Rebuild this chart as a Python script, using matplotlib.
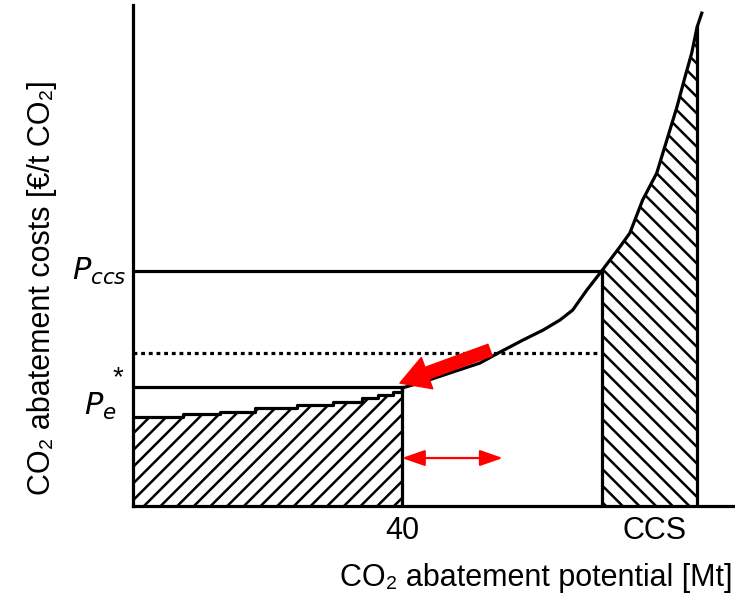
import numpy as np
import matplotlib
matplotlib.use("Agg")
import matplotlib.pyplot as plt

plt.rcParams['font.family'] = ['Liberation Sans', 'DejaVu Sans']
plt.rcParams['hatch.linewidth'] = 1.8

# marginal abatement cost curve (Mt, EUR/t)
low_x = [0, 7.4, 12.9, 18.1, 24.4, 29.7, 34.1, 36.5, 38.7, 40.0]
low_y = [17.8, 18.4, 18.8, 19.6, 20.2, 20.8, 21.6, 22.2, 22.8, 23.6]
high_x = [40.0, 43.1, 47.1, 51.6, 54.6, 58.0, 61.0, 63.5, 65.4, 67.5, 69.7,
          72.4, 73.9, 75.8, 77.9, 79.4, 80.9, 82.1, 83.1, 83.9, 84.6]
high_y = [23.6, 24.8, 26.6, 28.6, 30.8, 33.2, 35.2, 37.2, 39.2, 43.2, 47.0,
          51.8, 54.6, 61.2, 66.6, 73.2, 79.8, 85.8, 90.6, 95.8, 98.6]

q_target = 40.0
q_ccs = 69.7
q_end = 83.9
p_ccs = 47.0
p_dotted = 30.6
p_e = 23.8
shift = 55.0

fig = plt.figure(figsize=(7.35, 5.97), dpi=100)
ax = fig.add_axes([0.181, 0.1524, 0.8177, 0.839])
ax.set_xlim(0, 89.4)
ax.set_ylim(0, 100.2)

for s in ['top', 'right']:
    ax.spines[s].set_visible(False)
for s in ['left', 'bottom']:
    ax.spines[s].set_linewidth(2.3)

# hatched areas
ax.fill_between(low_x, 0, low_y, step='post', facecolor='none',
                edgecolor='k', hatch='//', lw=0)
hx = np.array(high_x)
hy = np.array(high_y)
m = (hx >= q_ccs) & (hx <= q_end)
ax.fill_between(hx[m], 0, hy[m], facecolor='none', edgecolor='k',
                hatch='\\\\', lw=0)

# curve
ax.step(low_x, low_y, where='post', color='k', lw=2.3)
ax.plot(high_x, high_y, color='k', lw=2.3)

# price / quantity lines
ax.plot([0, q_ccs], [p_ccs, p_ccs], color='k', lw=2.3)
ax.plot([0, q_ccs], [p_dotted, p_dotted], color='k', lw=2.3, ls=(0, (1.2, 1.2)))
ax.plot([0, q_target], [p_e, p_e], color='k', lw=2.3)
ax.plot([q_target, q_target], [0, p_e], color='k', lw=2.3)
ax.plot([q_ccs, q_ccs], [0, p_ccs], color='k', lw=2.3)
ax.plot([q_end, q_end], [0, 95.8], color='k', lw=2.3)

# red arrows
ax.annotate('', xy=(39.7, 24.6), xytext=(53.1, 31.2),
            arrowprops=dict(arrowstyle='simple,head_width=1.5,head_length=1.3,tail_width=0.55',
                            color='red', mutation_scale=16, shrinkA=0, shrinkB=0))
ax.annotate('', xy=(shift, 9.6), xytext=(q_target, 9.6),
            arrowprops=dict(arrowstyle='<|-|>,head_width=0.35,head_length=1.0',
                            color='red', lw=1.6, mutation_scale=14, shrinkA=0, shrinkB=0))

ax.set_xticks([q_target, 77.6])
ax.set_xticklabels(['40', 'CCS'], fontsize=22)
ax.tick_params(axis='x', length=0, pad=7)
ax.set_yticks([])

ax.text(-1.0, p_ccs, r'$P_{ccs}$', fontsize=22, ha='right', va='center', clip_on=False)
ax.text(-2.4, 20.0, r'$P_e$', fontsize=22, ha='right', va='center', clip_on=False)
ax.text(-3.0, 25.5, '*', fontsize=20, ha='left', va='center', clip_on=False)

fig.text(733 / 735, 1 - 578 / 597, 'CO₂ abatement potential [Mt]', fontsize=22,
         ha='right', va='center')
fig.text(42 / 735, 1 - 288 / 597, 'CO₂ abatement costs [€/t CO₂]', fontsize=22,
         ha='center', va='center', rotation=90)

fig.savefig('out.png', dpi=100)
